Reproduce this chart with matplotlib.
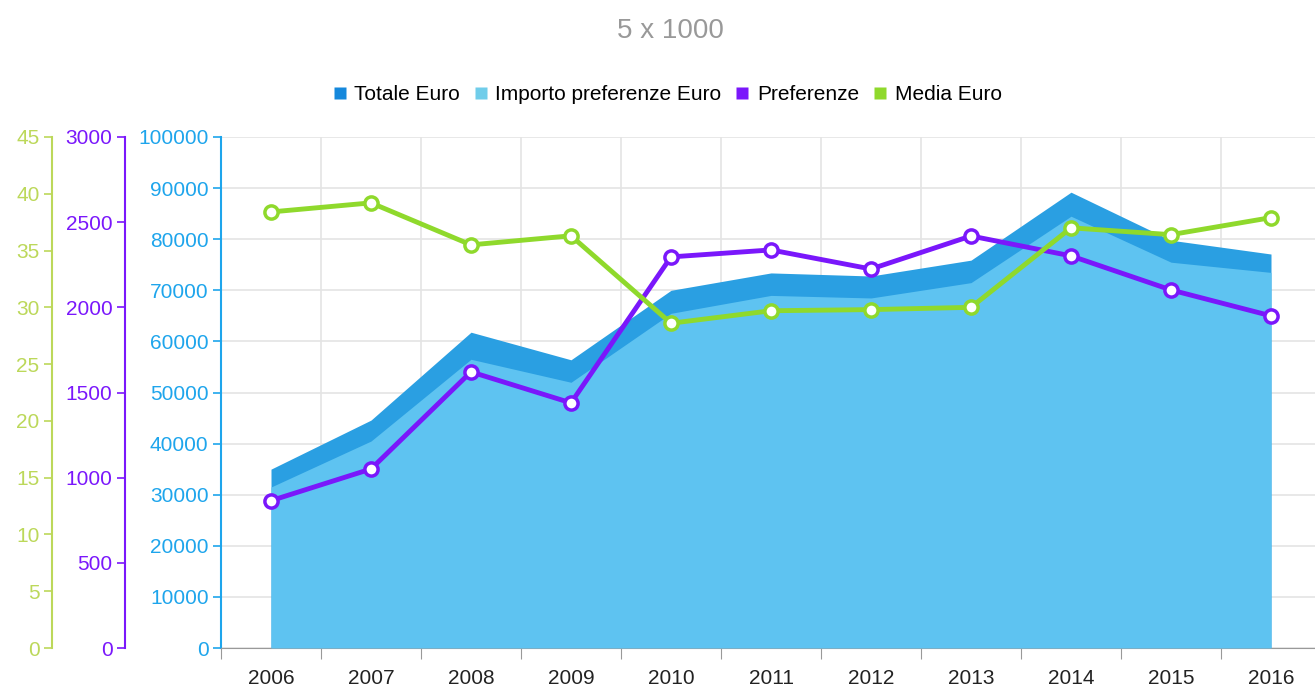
import matplotlib
matplotlib.use("Agg")
import matplotlib.pyplot as plt
from matplotlib.lines import Line2D
import numpy as np

years = ["2006", "2007", "2008", "2009", "2010", "2011", "2012", "2013", "2014", "2015", "2016"]
totale_euro = [35000, 44600, 61800, 56400, 70000, 73400, 72800, 75900, 89200, 79800, 77100]
importo_pref = [31500, 40500, 56500, 52000, 65500, 69000, 68500, 71500, 84500, 75500, 73500]
preferenze = [865, 1051, 1621, 1439, 2296, 2337, 2225, 2419, 2302, 2102, 1950]
media_euro = [38.4, 39.2, 35.5, 36.3, 28.6, 29.7, 29.8, 30.0, 37.0, 36.4, 37.9]

plt.rcParams['font.family'] = ['Liberation Sans', 'DejaVu Sans']

C_TOT = '#2a9fe2'
C_IMP = '#5ec3f1'
C_PREF = '#7a17fb'
C_MED = '#8fd92c'
C_BLUE_TXT = '#1ea5ec'
C_GREEN_TXT = '#bcd85a'
FS = 15

fig = plt.figure(figsize=(13.15, 6.86), dpi=100)
ax = fig.add_axes([221/1315, 1-648/686, 1-221/1315, (648-137)/686])
x = np.arange(len(years))

ax.fill_between(x, 0, totale_euro, color=C_TOT, lw=0, zorder=2)
ax.fill_between(x, 0, importo_pref, color=C_IMP, lw=0, zorder=3)

ax.set_xlim(-0.5, 10.44)
ax.set_ylim(0, 100000)
ax.set_yticks(np.arange(0, 100001, 10000))
ax.set_xticks(np.arange(-0.5, 10.5, 1))
ax.set_xticklabels([])
ax.set_xticks(x, minor=True)
ax.set_xticklabels(years, minor=True)
ax.tick_params(axis='x', which='minor', length=0, pad=15, labelsize=FS, colors='#222222')
ax.tick_params(axis='x', which='major', length=8, color='#999999', direction='out')
ax.tick_params(axis='y', colors=C_BLUE_TXT, labelsize=FS, length=6, width=1.2, pad=3)
ax.grid(True, which='major', color='#e4e4e4', lw=1.2, zorder=0)
ax.set_axisbelow(True)
for s in ['top', 'right']:
    ax.spines[s].set_visible(False)
ax.spines['left'].set_color(C_BLUE_TXT)
ax.spines['left'].set_linewidth(1.5)
ax.spines['bottom'].set_color('#999999')

ax2 = ax.twinx()
ax2.yaxis.set_ticks_position('left')
ax2.yaxis.set_label_position('left')
ax2.spines['left'].set_position(('outward', 96*0.72))
ax2.spines['left'].set_color(C_PREF)
ax2.spines['left'].set_linewidth(1.5)
for s in ['top', 'right', 'bottom']:
    ax2.spines[s].set_visible(False)
ax2.set_ylim(0, 3000)
ax2.set_yticks(np.arange(0, 3001, 500))
ax2.tick_params(axis='y', colors=C_PREF, labelsize=FS, length=6, width=1.2, pad=3)
ax2.plot(x, preferenze, color=C_PREF, lw=3.5, marker='o', ms=9.5, mfc='white',
         mec=C_PREF, mew=2.5, zorder=5)

ax3 = ax.twinx()
ax3.yaxis.set_ticks_position('left')
ax3.yaxis.set_label_position('left')
ax3.spines['left'].set_position(('outward', 169*0.72))
ax3.spines['left'].set_color(C_GREEN_TXT)
ax3.spines['left'].set_linewidth(1.5)
for s in ['top', 'right', 'bottom']:
    ax3.spines[s].set_visible(False)
ax3.set_ylim(0, 45)
ax3.set_yticks(np.arange(0, 46, 5))
ax3.tick_params(axis='y', colors=C_GREEN_TXT, labelsize=FS, length=6, width=1.2, pad=3)
ax3.plot(x, media_euro, color=C_MED, lw=3.5, marker='o', ms=9.5, mfc='white',
         mec=C_MED, mew=2.5, zorder=5)

fig.text(0.51, 0.955, "5 x 1000", ha='center', va='center', fontsize=20, color='#999999')

handles = [
    Line2D([], [], ls='none', marker='s', ms=9, mfc='#1588dc', mec='none'),
    Line2D([], [], ls='none', marker='s', ms=9, mfc='#70cdea', mec='none'),
    Line2D([], [], ls='none', marker='s', ms=9, mfc=C_PREF, mec='none'),
    Line2D([], [], ls='none', marker='s', ms=9, mfc=C_MED, mec='none'),
]
labels = ["Totale Euro", "Importo preferenze Euro", "Preferenze", "Media Euro"]
fig.legend(handles, labels, loc='center', bbox_to_anchor=(0.506, 0.862), ncol=4,
           frameon=False, fontsize=FS, handletextpad=0.2, columnspacing=0.5,
           handlelength=1.0)

fig.savefig("out.png", dpi=100)
